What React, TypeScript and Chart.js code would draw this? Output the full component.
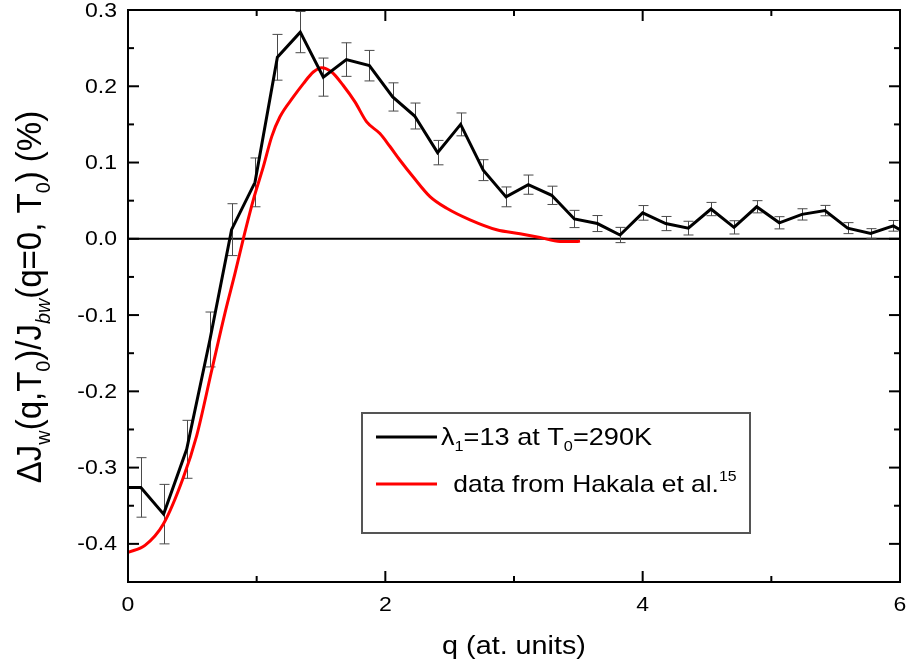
import React, { useEffect, useRef } from 'react';
import { Chart, registerables } from 'chart.js';

Chart.register(...registerables);

const FONT = '"Liberation Sans", Arial, Helvetica, sans-serif';
const SX = 1.15; // horizontal stretch of text seen in the reference

// Black curve: lambda_1 = 13 at T0 = 290K (with error bars)
const blackQ = [0, 0.1, 0.277, 0.456, 0.637, 0.805, 0.987, 1.161, 1.339, 1.518, 1.697, 1.876, 2.057, 2.228, 2.406, 2.585, 2.761, 2.938, 3.111, 3.293, 3.469, 3.648, 3.824, 4.0, 4.179, 4.355, 4.531, 4.71, 4.886, 5.062, 5.238, 5.417, 5.593, 5.772, 5.948, 6.0];
const blackVal = [-0.326, -0.326, -0.361, -0.276, -0.132, 0.012, 0.074, 0.238, 0.271, 0.212, 0.235, 0.227, 0.186, 0.161, 0.113, 0.15, 0.09, 0.055, 0.071, 0.057, 0.026, 0.02, 0.005, 0.034, 0.02, 0.014, 0.039, 0.015, 0.042, 0.021, 0.032, 0.037, 0.014, 0.007, 0.017, 0.012];
const blackErr = [null, 0.039, 0.039, 0.038, 0.036, 0.034, 0.032, 0.03, 0.027, 0.025, 0.022, 0.02, 0.0185, 0.017, 0.016, 0.015, 0.0137, 0.013, 0.0126, 0.012, 0.0113, 0.0105, 0.01, 0.0096, 0.0093, 0.009, 0.0087, 0.0087, 0.008, 0.008, 0.0074, 0.0068, 0.0072, 0.0063, 0.007, null];

// Red curve: data from Hakala et al.
const redQ = [0, 0.132, 0.275, 0.43, 0.534, 0.65, 0.754, 0.832, 0.896, 0.974, 1.052, 1.117, 1.181, 1.285, 1.363, 1.44, 1.505, 1.583, 1.673, 1.764, 1.855, 1.958, 2.036, 2.114, 2.217, 2.347, 2.477, 2.658, 2.865, 3.047, 3.202, 3.357, 3.487, 3.513];
const redVal = [-0.411, -0.402, -0.374, -0.313, -0.258, -0.173, -0.097, -0.045, 0.0, 0.051, 0.0946, 0.134, 0.16, 0.186, 0.2035, 0.2187, 0.2244, 0.2187, 0.201, 0.1795, 0.1533, 0.138, 0.121, 0.103, 0.081, 0.0553, 0.04, 0.0248, 0.0118, 0.0065, 0.0017, -0.0035, -0.0035, -0.003];

const xMajorTicks = [0, 2, 4, 6];
const xMinorTicks = [1, 3, 5];
const yMajorTicks = [-0.4, -0.3, -0.2, -0.1, 0, 0.1, 0.2, 0.3];
const yMinorTicks = [-0.35, -0.25, -0.15, -0.05, 0.05, 0.15, 0.25];

const xTitle = 'q (at. units)';
type Run = { t: string; sub?: boolean; sup?: boolean; italic?: boolean };
const yTitleRuns: Run[] = [
  { t: '\u0394J' }, { t: 'w', sub: true }, { t: '(q,T' }, { t: '0', sub: true }, { t: ')/J' },
  { t: 'bw', sub: true, italic: true }, { t: '(q=0, T' }, { t: '0', sub: true }, { t: ') (%)' },
];
const legendRuns1: Run[] = [{ t: '\u03BB' }, { t: '1', sub: true }, { t: '=13 at T' }, { t: '0', sub: true }, { t: '=290K' }];
const legendRuns2: Run[] = [{ t: ' data from Hakala et al.' }, { t: '15', sup: true }];

function runFont(r: Run, size: number) {
  const s = r.sub || r.sup ? size * 0.6 : size;
  return `${r.italic ? 'italic ' : ''}${s}px ${FONT}`;
}
function measureRuns(ctx: CanvasRenderingContext2D, runs: Run[], size: number) {
  let w = 0;
  for (const r of runs) { ctx.font = runFont(r, size); w += ctx.measureText(r.t).width; }
  return w;
}
function drawRuns(ctx: CanvasRenderingContext2D, runs: Run[], x: number, y: number, size: number) {
  let cx = x;
  ctx.textBaseline = 'alphabetic';
  ctx.textAlign = 'left';
  for (const r of runs) {
    ctx.font = runFont(r, size);
    const dy = r.sub ? size * 0.25 : r.sup ? -size * 0.45 : 0;
    ctx.fillText(r.t, cx, y + dy);
    cx += ctx.measureText(r.t).width;
  }
}
function stretchedText(ctx: CanvasRenderingContext2D, text: string, x: number, y: number, align: CanvasTextAlign, baseline: CanvasTextBaseline) {
  ctx.save();
  ctx.translate(x, y);
  ctx.scale(SX, 1);
  ctx.textAlign = align;
  ctx.textBaseline = baseline;
  ctx.fillText(text, 0, 0);
  ctx.restore();
}

const decorPlugin = {
  id: 'decor',
  beforeDatasetsDraw(chart: any) {
    const { ctx, chartArea: a, scales } = chart;
    const xs = scales.x, ys = scales.y;
    ctx.save();
    const y0 = ys.getPixelForValue(0);
    ctx.strokeStyle = '#000';
    ctx.lineWidth = 2;
    ctx.beginPath();
    ctx.moveTo(a.left, y0);
    ctx.lineTo(a.right, y0);
    ctx.stroke();
    ctx.strokeStyle = '#4a4a4a';
    ctx.lineWidth = 1;
    blackQ.forEach((q, i) => {
      const e = blackErr[i];
      if (e == null) return;
      const px = Math.round(xs.getPixelForValue(q)) + 0.5;
      const yt = ys.getPixelForValue(blackVal[i] + e);
      const yb = ys.getPixelForValue(blackVal[i] - e);
      ctx.beginPath();
      ctx.moveTo(px, yt); ctx.lineTo(px, yb);
      ctx.moveTo(px - 5, yt); ctx.lineTo(px + 5, yt);
      ctx.moveTo(px - 5, yb); ctx.lineTo(px + 5, yb);
      ctx.stroke();
    });
    ctx.restore();
  },
  afterDraw(chart: any) {
    const { ctx, chartArea: a, scales } = chart;
    const xs = scales.x, ys = scales.y;
    ctx.save();
    ctx.strokeStyle = '#000';
    ctx.lineWidth = 2;
    ctx.strokeRect(a.left, a.top, a.right - a.left, a.bottom - a.top);
    const seg = (x1: number, y1: number, x2: number, y2: number) => {
      ctx.beginPath(); ctx.moveTo(x1, y1); ctx.lineTo(x2, y2); ctx.stroke();
    };
    xMajorTicks.forEach((v) => { const p = xs.getPixelForValue(v); seg(p, a.bottom, p, a.bottom - 11); seg(p, a.top, p, a.top + 11); });
    xMinorTicks.forEach((v) => { const p = xs.getPixelForValue(v); seg(p, a.bottom, p, a.bottom - 6); seg(p, a.top, p, a.top + 6); });
    yMajorTicks.forEach((v) => { const p = ys.getPixelForValue(v); seg(a.left, p, a.left + 11, p); seg(a.right, p, a.right - 11, p); });
    yMinorTicks.forEach((v) => { const p = ys.getPixelForValue(v); seg(a.left, p, a.left + 6, p); seg(a.right, p, a.right - 6, p); });

    ctx.fillStyle = '#000';
    // tick labels
    ctx.font = `20px ${FONT}`;
    xMajorTicks.forEach((v) => stretchedText(ctx, String(v), xs.getPixelForValue(v), a.bottom + 23, 'center', 'middle'));
    yMajorTicks.forEach((v) => stretchedText(ctx, v.toFixed(1), a.left - 11, ys.getPixelForValue(v) + 1, 'right', 'middle'));

    // x title
    ctx.font = `25px ${FONT}`;
    stretchedText(ctx, xTitle, (a.left + a.right) / 2, 654, 'center', 'alphabetic');

    // y title (rotated)
    const ts = 33;
    const tw = measureRuns(ctx, yTitleRuns, ts);
    ctx.save();
    ctx.translate(41, (a.top + a.bottom) / 2 + 1);
    ctx.scale(1.05, 1);
    ctx.rotate(-Math.PI / 2);
    drawRuns(ctx, yTitleRuns, -tw / 2, 0, ts);
    ctx.restore();

    // legend
    const lx = 362, ly = 413, lw = 388, lh = 120;
    ctx.strokeStyle = '#555';
    ctx.lineWidth = 2;
    ctx.strokeRect(lx, ly, lw, lh);
    ctx.lineWidth = 3;
    ctx.strokeStyle = '#000';
    seg(376, 437, 437, 437);
    ctx.strokeStyle = '#ff0000';
    seg(376, 484, 437, 484);
    ctx.fillStyle = '#000';
    ctx.save();
    ctx.translate(441, 445);
    ctx.scale(1.13, 1);
    drawRuns(ctx, legendRuns1, 0, 0, 24);
    ctx.restore();
    ctx.save();
    ctx.translate(446, 492);
    ctx.scale(1.1, 1);
    drawRuns(ctx, legendRuns2, 0, 0, 24);
    ctx.restore();
    ctx.restore();
  },
};

export default function App() {
  const ref = useRef<HTMLCanvasElement | null>(null);
  useEffect(() => {
    if (!ref.current) return;
    const chart = new Chart(ref.current, {
      type: 'line',
      data: {
        datasets: [
          {
            label: 'lambda1=13 at T0=290K',
            data: blackQ.map((q, i) => ({ x: q, y: blackVal[i] })),
            borderColor: '#000',
            borderWidth: 3,
            pointRadius: 0,
            tension: 0,
            order: 0,
          },
          {
            label: 'data from Hakala et al.',
            data: redQ.map((q, i) => ({ x: q, y: redVal[i] })),
            borderColor: '#ff0000',
            borderWidth: 3,
            pointRadius: 0,
            cubicInterpolationMode: 'monotone',
            order: 1,
          },
        ],
      },
      options: {
        responsive: false,
        animation: false,
        events: [],
        layout: { padding: { top: 10, right: 8, left: 0, bottom: 0 } },
        plugins: { legend: { display: false }, tooltip: { enabled: false } },
        scales: {
          x: {
            type: 'linear',
            min: 0,
            max: 6,
            grid: { display: false, drawTicks: false },
            border: { display: false },
            ticks: { display: false },
            afterBuildTicks: (s: any) => { s.ticks = xMajorTicks.map((v) => ({ value: v })); },
            afterFit: (s: any) => { s.height = 86; s.paddingLeft = 0; s.paddingRight = 0; },
          },
          y: {
            type: 'linear',
            min: -0.45,
            max: 0.3,
            grid: { display: false, drawTicks: false },
            border: { display: false },
            ticks: { display: false },
            afterBuildTicks: (s: any) => { s.ticks = yMajorTicks.map((v) => ({ value: v })); },
            afterFit: (s: any) => { s.width = 128; s.paddingTop = 0; s.paddingBottom = 0; },
          },
        },
      },
      plugins: [decorPlugin],
    } as any);
    return () => chart.destroy();
  }, []);
  return (
    <div style={{ position: 'fixed', left: 0, top: 0, width: 908, height: 668, background: '#fff' }}>
      <canvas ref={ref} width={908} height={668} style={{ display: 'block', width: 908, height: 668 }} />
    </div>
  );
}
